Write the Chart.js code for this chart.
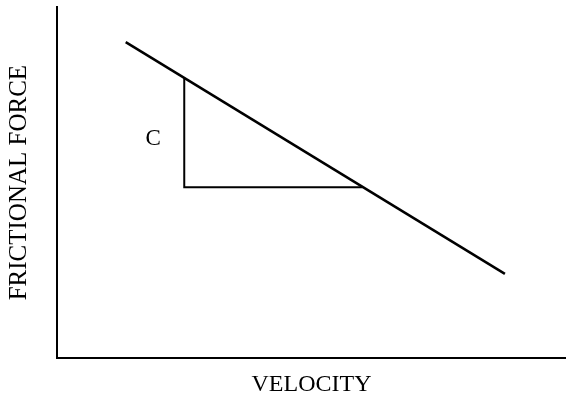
<!DOCTYPE html>
<html>
<head>
<meta charset="utf-8">
<script src="https://cdn.jsdelivr.net/npm/chart.js@4"></script>
<style>
  html, body { margin: 0; padding: 0; background: #fff; }
  #wrap { width: 566px; height: 402px; }
</style>
</head>
<body>
<div id="wrap"><canvas id="frictionChart"></canvas></div>
<script>
// Sloping friction line (velocity, force)
const lineX = [13.5, 88];
const lineY = [90, 24];

// Slope triangle under the line
const triX = [25, 25, 60];
const triY = [79.9, 48.7, 48.7];

// Text labels
const xTitle = 'VELOCITY';
const yTitle = 'FRICTIONAL FORCE';
const sideLabel = { text: 'C', x: 18.9, y: 62.5 };

const toPoints = (xs, ys) => xs.map((x, i) => ({ x: x, y: ys[i] }));

const ctx = document.getElementById('frictionChart').getContext('2d');

// draws the "C" next to the triangle, placed through the scales
const sideLabelPlugin = {
    id: 'sideLabel',
    afterDatasetsDraw(chart) {
        const c = chart.ctx;
        const px = chart.scales.x.getPixelForValue(sideLabel.x);
        const py = chart.scales.y.getPixelForValue(sideLabel.y);
        c.save();
        c.fillStyle = '#000';
        c.font = '23px "Liberation Serif"';
        c.textAlign = 'center';
        c.textBaseline = 'middle';
        c.fillText(sideLabel.text, px, py);
        c.restore();
    }
};

const frictionChart = new Chart(ctx, {
    type: 'scatter',
    data: {
        datasets: [{
            data: toPoints(lineX, lineY),
            showLine: true,
            borderColor: '#000',
            borderWidth: 2.5,
            pointRadius: 0,
            fill: false
        }, {
            data: toPoints(triX, triY),
            showLine: true,
            borderColor: '#000',
            borderWidth: 2,
            pointRadius: 0,
            fill: false
        }]
    },
    options: {
        responsive: true,
        maintainAspectRatio: false,
        animation: false,
        layout: {
            padding: { top: 7, right: 0, left: 4, bottom: 3 }
        },
        plugins: {
            legend: { display: false },
            tooltip: { enabled: false }
        },
        scales: {
            x: {
                type: 'linear',
                min: 0,
                max: 100,
                grid: { display: false },
                border: { display: true, color: '#000', width: 2 },
                ticks: { display: false },
                title: {
                    display: true,
                    text: xTitle,
                    color: '#000',
                    font: { family: 'Liberation Serif', size: 24 },
                    padding: { top: 4, bottom: 0 }
                }
            },
            y: {
                type: 'linear',
                min: 0,
                max: 100,
                grid: { display: false },
                border: { display: true, color: '#000', width: 2 },
                ticks: { display: false },
                title: {
                    display: true,
                    text: yTitle,
                    color: '#000',
                    font: { family: 'Liberation Serif', size: 25 },
                    padding: { top: 0, bottom: 15 }
                }
            }
        }
    },
    plugins: [sideLabelPlugin]
});
</script>
</body>
</html>
